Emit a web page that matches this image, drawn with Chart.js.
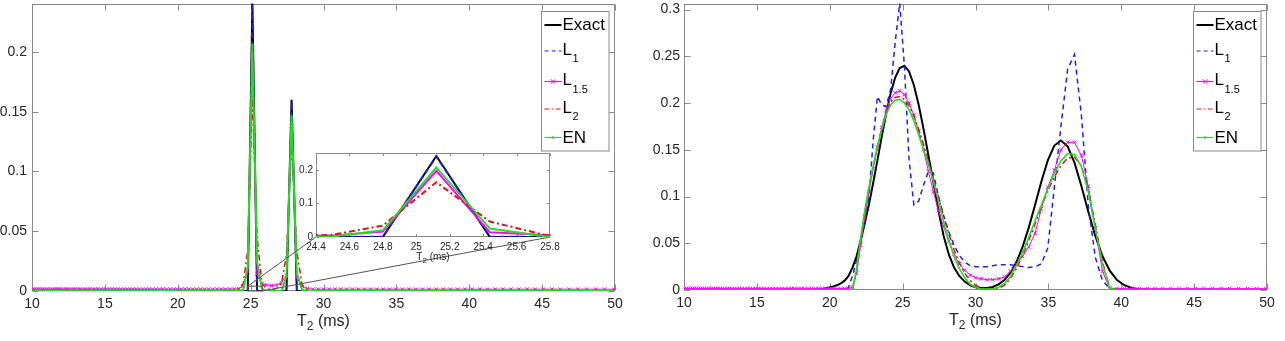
<!DOCTYPE html>
<html><head><meta charset="utf-8">
<script src="https://cdn.jsdelivr.net/npm/chart.js@4.4.0/dist/chart.umd.min.js"></script>
<style>
html,body{margin:0;padding:0;background:#fff;}
#wrap{position:relative;width:1285px;height:341px;overflow:hidden;background:#fff;}
.box{position:absolute;}
</style></head><body>
<div id="wrap">
<div class="box" style="left:0;top:0;width:640px;height:341px"><canvas id="cLeft"></canvas></div>
<div class="box" style="left:640px;top:0;width:645px;height:341px"><canvas id="cRight"></canvas></div>
<div class="box" id="insetBox" style="left:280px;top:146px;width:290px;height:125px"><canvas id="cInset"></canvas></div>
</div>
<script>
// ---------------- DATA ----------------
const T2 = [
 10.05,10.18,10.31,10.44,10.58,10.71,10.85,10.99,11.13,11.27,
 11.42,11.56,11.71,11.86,12.01,12.17,12.32,12.48,12.64,12.80,
 12.96,13.13,13.30,13.47,13.64,13.82,13.99,14.17,14.35,14.54,
 14.72,14.91,15.10,15.30,15.49,15.69,15.89,16.09,16.30,16.51,
 16.72,16.93,17.15,17.37,17.59,17.82,18.05,18.28,18.51,18.75,
 18.99,19.23,19.48,19.73,19.98,20.23,20.49,20.76,21.02,21.29,
 21.56,21.84,22.12,22.40,22.69,22.98,23.27,23.57,23.87,24.18,
 24.49,24.80,25.12,25.44,25.77,26.10,26.43,26.77,27.11,27.46,
 27.81,28.17,28.53,28.89,29.26,29.64,30.01,30.40,30.79,31.18,
 31.58,31.99,32.39,32.81,33.23,33.65,34.09,34.52,34.96,35.41,
 35.86,36.32,36.79,37.26,37.74,38.22,38.71,39.20,39.71,40.21,
 40.73,41.25,41.78,42.31,42.85,43.40,43.96,44.52,45.09,45.67,
 46.25,46.85,47.44,48.05,48.67,49.29,49.92
];

// Left panel (sharp peaks)
const LEFT_EXACT = [
 0,0,0,0,0,0,0,0,0,0, 0,0,0,0,0,0,0,0,0,0, 0,0,0,0,0,0,0,0,0,0,
 0,0,0,0,0,0,0,0,0,0, 0,0,0,0,0,0,0,0,0,0, 0,0,0,0,0,0,0,0,0,0,
 0,0,0,0,0,0,0,0,0,0,
 0,0,0.241,0,0,0,0,0,0,0,
 0.16,0,0,0,0,0,0,0,0,0,
 0,0,0,0,0,0,0,0,0,0, 0,0,0,0,0,0,0,0,0,0, 0,0,0,0,0,0,0,0,0,0,
 0,0,0,0,0,0,0
];
const LEFT_L1 = [
 0,0,0,0,0,0,0,0,0,0, 0,0,0,0,0,0,0,0,0,0, 0,0,0,0,0,0,0,0,0,0,
 0,0,0,0,0,0,0,0,0,0, 0,0,0,0,0,0,0,0,0,0, 0,0,0,0,0,0,0,0,0,0,
 0,0,0,0,0,0,0,0,0,0,
 0,0.001,0.24,0.001,0,0,0,0,0,0,
 0.158,0,0,0,0,0,0,0,0,0,
 0,0,0,0,0,0,0,0,0,0, 0,0,0,0,0,0,0,0,0,0, 0,0,0,0,0,0,0,0,0,0,
 0,0,0,0,0,0,0
];
const LEFT_L15 = [
 0.0015,0.0015,0.0015,0.0015,0.0015,0.0015,0.0015,0.0015,0.0015,0.0015,
 0.0015,0.0015,0.0015,0.0015,0.0015,0.0015,0.0015,0.0015,0.0015,0.0015,
 0.0015,0.0015,0.0015,0.0015,0.0015,0.0015,0.0015,0.0015,0.0015,0.0015,
 0.0015,0.0015,0.0015,0.0015,0.0015,0.0015,0.0015,0.0015,0.0015,0.0015,
 0.0015,0.0015,0.0015,0.0015,0.0015,0.0015,0.0015,0.0015,0.0015,0.0015,
 0.0015,0.0015,0.0015,0.0015,0.0015,0.0015,0.0015,0.0015,0.0015,0.0015,
 0.0015,0.0015,0.0015,0.0015,0.0015,0.0015,0.0015,0.0015,0.0015,0.002,
 0.004,0.016,0.197,0.014,0.006,0.005,0.0045,0.005,0.007,0.013,
 0.138,0.011,0.004,0.002,0.0015,0.0015,0.0015,0.0015,0.0015,0.0015,
 0.0015,0.0015,0.0015,0.0015,0.0015,0.0015,0.0015,0.0015,0.0015,0.0015,
 0.0015,0.0015,0.0015,0.0015,0.0015,0.0015,0.0015,0.0015,0.0015,0.0015,
 0.0015,0.0015,0.0015,0.0015,0.0015,0.0015,0.0015,0.0015,0.0015,0.0015,
 0.0015,0.0015,0.0015,0.0015,0.0015,0.0015,0.0015
];
const LEFT_L2 = [
 0,0,0,0,0,0,0,0,0,0, 0,0,0,0,0,0,0,0,0,0, 0,0,0,0,0,0,0,0,0,0,
 0,0,0,0,0,0,0,0,0,0, 0,0,0,0,0,0,0,0,0,0, 0,0,0,0,0,0,0,0,0,0,
 0,0,0,0,0,0,0,0,0,0.002,
 0.006,0.034,0.163,0.046,0.006,0.002,0.001,0.002,0.006,0.03,
 0.125,0.033,0.005,0.001,0,0,0,0,0,0,
 0,0,0,0,0,0,0,0,0,0, 0,0,0,0,0,0,0,0,0,0, 0,0,0,0,0,0,0,0,0,0,
 0,0,0,0,0,0,0
];
const LEFT_EN = [
 0,0,0,0,0,0,0,0,0,0, 0,0,0,0,0,0,0,0,0,0, 0,0,0,0,0,0,0,0,0,0,
 0,0,0,0,0,0,0,0,0,0, 0,0,0,0,0,0,0,0,0,0, 0,0,0,0,0,0,0,0,0,0,
 0,0,0,0,0,0,0,0,0,0,
 0.001,0.02,0.207,0.025,0.002,0,0,0,0,0.012,
 0.147,0.015,0.001,0,0,0,0,0,0,0,
 0,0,0,0,0,0,0,0,0,0, 0,0,0,0,0,0,0,0,0,0, 0,0,0,0,0,0,0,0,0,0,
 0,0,0,0,0,0,0
];

// Right panel (broad peaks)
const RIGHT_EXACT = [
 0,0,0,0,0,0,0,0,0,0, 0,0,0,0,0,0,0,0,0,0, 0,0,0,0,0,0,0,0,0,0,
 0,0,0,0,0,0,0,0,0,0, 0,0,0,0,0,0,0,0,0,0,
 0.0004,0.0007,0.0011,0.0018,0.0028,0.0038,0.005,0.007,0.010,0.015,
 0.024,0.036,0.053,0.0712,0.0916,0.1144,0.1387,0.1643,0.1886,0.2106,
 0.2273,0.2374,0.2398,0.2338,0.2194,0.1983,0.1726,0.1439,0.1152,0.085,
 0.058,0.038,0.024,0.015,0.009,0.005,0.003,0.0022,0.0022,0.0033,
 0.0061,0.0107,0.0182,0.0299,0.0461,0.0665,0.0912,0.1161,0.1386,0.1545,
 0.1600,0.1537,0.1363,0.1115,0.0837,0.0578,0.0363,0.0209,0.0107,0.0051,
 0.0021,0.0008,0.0003,0,0,0,0,0,0,0,
 0,0,0,0,0,0,0
];
const RIGHT_L1 = [
 0,0,0,0,0,0,0,0,0,0, 0,0,0,0,0,0,0,0,0,0, 0,0,0,0,0,0,0,0,0,0,
 0,0,0,0,0,0,0,0,0,0, 0,0,0,0,0,0,0,0,0,0,
 0,0,0,0,0,0,0,0,0,0.003,
 0.015,0.032,0.050,0.075,0.100,0.160,0.207,0.198,0.196,0.215,
 0.265,0.307,0.240,0.140,0.091,0.095,0.112,0.127,0.125,0.100,
 0.080,0.062,0.048,0.037,0.030,0.026,0.025,0.025,0.025,0.026,
 0.027,0.027,0.027,0.026,0.025,0.024,0.025,0.028,0.045,0.110,
 0.175,0.236,0.252,0.188,0.090,0.035,0.010,0.002,0,0,
 0,0,0,0,0,0,0,0,0,0,
 0,0,0,0,0,0,0
];
const RIGHT_L15 = [
 0.0015,0.0015,0.0015,0.0015,0.0015,0.0015,0.0015,0.0015,0.0015,0.0015,
 0.0015,0.0015,0.0015,0.0015,0.0015,0.0015,0.0015,0.0015,0.0015,0.0015,
 0.0015,0.0015,0.0015,0.0015,0.0015,0.0015,0.0015,0.0015,0.0015,0.0015,
 0.0015,0.0015,0.0015,0.0015,0.0015,0.0015,0.0015,0.0015,0.0015,0.0015,
 0.0015,0.0015,0.0015,0.0015,0.0015,0.0015,0.0015,0.0015,0.0015,0.0015,
 0.0015,0.0015,0.0015,0.0015,0.0015,0.0015,0.0015,0.0015,0.0015,0.0015,
 0.003,0.018,0.048,0.078,0.105,0.130,0.153,0.174,0.192,0.205,
 0.211,0.213,0.209,0.200,0.187,0.170,0.150,0.127,0.105,0.085,
 0.068,0.052,0.038,0.028,0.021,0.016,0.013,0.012,0.011,0.011,
 0.012,0.014,0.020,0.027,0.036,0.046,0.061,0.087,0.110,0.128,
 0.150,0.158,0.158,0.144,0.111,0.066,0.020,0.002,0.0015,0.0015,
 0.0015,0.0015,0.0015,0.0015,0.0015,0.0015,0.0015,0.0015,0.0015,0.0015,
 0.0015,0.0015,0.0015,0.0015,0.0015,0.0015,0.0015
];
const RIGHT_L2 = [
 0,0,0,0,0,0,0,0,0,0, 0,0,0,0,0,0,0,0,0,0, 0,0,0,0,0,0,0,0,0,0,
 0,0,0,0,0,0,0,0,0,0, 0,0,0,0,0,0,0,0,0,0, 0,0,0,0,0,0,0,0,0,0,
 0.002,0.020,0.052,0.082,0.107,0.131,0.153,0.173,0.190,0.201,
 0.206,0.207,0.204,0.197,0.186,0.172,0.156,0.138,0.119,0.099,
 0.079,0.060,0.043,0.029,0.018,0.010,0.005,0.002,0.001,0.001,
 0.002,0.005,0.012,0.023,0.037,0.053,0.071,0.089,0.106,0.121,
 0.133,0.141,0.142,0.133,0.108,0.070,0.030,0.003,0,0,
 0,0,0,0,0,0,0,0,0,0,
 0,0,0,0,0,0,0
];
const RIGHT_EN = [
 0,0,0,0,0,0,0,0,0,0, 0,0,0,0,0,0,0,0,0,0, 0,0,0,0,0,0,0,0,0,0,
 0,0,0,0,0,0,0,0,0,0, 0,0,0,0,0,0,0,0,0,0, 0,0,0,0,0,0,0,0,0,0,
 0.001,0.022,0.056,0.085,0.110,0.133,0.154,0.172,0.188,0.198,
 0.203,0.204,0.200,0.193,0.181,0.166,0.150,0.134,0.116,0.095,
 0.073,0.053,0.036,0.023,0.013,0.006,0.003,0.001,0.001,0.001,
 0.003,0.007,0.014,0.026,0.040,0.056,0.074,0.091,0.108,0.125,
 0.138,0.146,0.145,0.132,0.105,0.066,0.028,0.002,0,0,
 0,0,0,0,0,0,0,0,0,0,
 0,0,0,0,0,0,0
];

const SERIES_NAMES = ['Exact', 'L', 'L', 'L', 'EN'];
const SERIES_SUBS  = ['', '1', '1.5', '2', ''];
const X_TITLE = ['T', '2', ' (ms)'];

const MAIN_X_TICKS  = [10, 15, 20, 25, 30, 35, 40, 45, 50];
const MAIN_X_LABELS = ['10', '15', '20', '25', '30', '35', '40', '45', '50'];
const LEFT_Y_TICKS  = [0, 0.05, 0.1, 0.15, 0.2];
const LEFT_Y_LABELS = ['0', '0.05', '0.1', '0.15', '0.2'];
const RIGHT_Y_TICKS  = [0, 0.05, 0.1, 0.15, 0.2, 0.25, 0.3];
const RIGHT_Y_LABELS = ['0', '0.05', '0.1', '0.15', '0.2', '0.25', '0.3'];
const INSET_X_TICKS  = [24.4, 24.6, 24.8, 25, 25.2, 25.4, 25.6, 25.8];
const INSET_X_LABELS = ['24.4', '24.6', '24.8', '25', '25.2', '25.4', '25.6', '25.8'];
const INSET_Y_TICKS  = [0, 0.1, 0.2];
const INSET_Y_LABELS = ['0', '0.1', '0.2'];

const LEFT_RANGE  = {xmin: 10, xmax: 50, ymin: 0, ymax: 0.2405};
const RIGHT_RANGE = {xmin: 10, xmax: 50, ymin: 0, ymax: 0.3065};
const INSET_RANGE = {xmin: 24.4, xmax: 25.8, ymin: 0, ymax: 0.25};
const ZOOM_BOX = {x0: 24.8, x1: 25.8, y0: 0, y1: 0.004};

// check lengths
[LEFT_EXACT, LEFT_L1, LEFT_L15, LEFT_L2, LEFT_EN, RIGHT_EXACT, RIGHT_L1, RIGHT_L15, RIGHT_L2, RIGHT_EN]
  .forEach((a, k) => { if (a.length !== T2.length) throw new Error('length mismatch ' + k + ': ' + a.length); });

// ---------------- STYLE ----------------
const FONT = "'Liberation Sans', Arial, Helvetica, sans-serif";
const INK = '#262626';
const FRAME = '#8a8a8a';
const INSET_POS = {left: 280, top: 146};
const STYLE = [
  {color: '#000000', dash: [],           marker: null},
  {color: '#2020e8', dash: [5, 4],       marker: null},
  {color: '#ff00ff', dash: [],           marker: 'crossRot'},
  {color: '#e0141c', dash: [6, 3, 2, 3], marker: null},
  {color: '#22dd22', dash: [],           marker: 'dot'}
];

Chart.defaults.font.family = FONT;
Chart.defaults.color = INK;

function makeDatasets(arrays, widths, withMarkers) {
  return arrays.map((arr, k) => ({
    label: SERIES_NAMES[k] + SERIES_SUBS[k],
    data: T2.map((t, i) => ({x: t, y: arr[i]})),
    borderColor: STYLE[k].color,
    backgroundColor: STYLE[k].color,
    borderWidth: widths[k],
    borderDash: STYLE[k].dash,
    pointStyle: 'crossRot',
    pointRadius: (withMarkers && STYLE[k].marker === 'crossRot') ? 2.5 : 0,
    pointBorderWidth: 1,
    pointBorderColor: STYLE[k].color,
    pointHoverRadius: 0,
    tension: 0,
    fill: false,
    order: 5 - k
  }));
}

function axisCfg(ticksArr, labelsArr, min, max, fontSize, pad, isX, fixedSize) {
  return {
    type: 'linear', min: min, max: max,
    grid: {display: false, drawTicks: false},
    border: {display: false},
    ticks: {
      autoSkip: false, maxRotation: 0, minRotation: 0, includeBounds: false,
      padding: pad, color: INK, font: {family: FONT, size: fontSize},
      callback: (v) => {
        const j = ticksArr.findIndex(t => Math.abs(t - v) < 1e-9);
        return j >= 0 ? labelsArr[j] : '';
      }
    },
    afterBuildTicks: (s) => { s.ticks = ticksArr.map(v => ({value: v})); },
    afterFit: (s) => {
      if (isX) s.height = fixedSize; else s.width = fixedSize;
      s.paddingLeft = 0; s.paddingRight = 0; s.paddingTop = 0; s.paddingBottom = 0;
    }
  };
}

function drawTitle(ctx, cx, cy, size, subSize, subDy) {
  const mainF = size + 'px ' + FONT, subF = subSize + 'px ' + FONT;
  ctx.font = mainF;
  const w0 = ctx.measureText(X_TITLE[0]).width, w2 = ctx.measureText(X_TITLE[2]).width;
  ctx.font = subF;
  const w1 = ctx.measureText(X_TITLE[1]).width;
  let x = cx - (w0 + w1 + w2) / 2;
  ctx.textAlign = 'left'; ctx.textBaseline = 'middle'; ctx.fillStyle = INK;
  ctx.font = mainF; ctx.fillText(X_TITLE[0], x, cy); x += w0;
  ctx.font = subF;  ctx.fillText(X_TITLE[1], x, cy + subDy); x += w1;
  ctx.font = mainF; ctx.fillText(X_TITLE[2], x, cy);
}

function drawLegend(chart) {
  const ctx = chart.ctx, ca = chart.chartArea;
  const w = 67.5, h = 139.5;
  const x0 = Math.round(ca.right - 7 - w) + 0.5, y0 = Math.round(ca.top + 7) + 0.5;
  ctx.save();
  ctx.fillStyle = '#ffffff';
  ctx.fillRect(x0, y0, w, h);
  ctx.strokeStyle = FRAME; ctx.lineWidth = 1; ctx.setLineDash([]);
  ctx.strokeRect(x0, y0, w, h);
  const rows = [13.5, 39.5, 70, 97.5, 126];
  SERIES_NAMES.forEach((name, k) => {
    const y = y0 + rows[k];
    const st = STYLE[k];
    ctx.strokeStyle = st.color; ctx.lineWidth = k === 0 ? 2 : 1.2;
    ctx.setLineDash(st.dash.map(d => d * 0.8));
    ctx.beginPath(); ctx.moveTo(x0 + 3, y); ctx.lineTo(x0 + 20, y); ctx.stroke();
    ctx.setLineDash([]);
    const mx = x0 + 11.5;
    if (st.marker === 'crossRot') {
      ctx.lineWidth = 1;
      ctx.beginPath();
      ctx.moveTo(mx - 2.2, y - 2.2); ctx.lineTo(mx + 2.2, y + 2.2);
      ctx.moveTo(mx - 2.2, y + 2.2); ctx.lineTo(mx + 2.2, y - 2.2);
      ctx.stroke();
    } else if (st.marker === 'dot') {
      ctx.fillStyle = st.color;
      ctx.beginPath(); ctx.arc(mx, y, 1.3, 0, Math.PI * 2); ctx.fill();
    }
    ctx.fillStyle = '#000000'; ctx.textAlign = 'left'; ctx.textBaseline = 'middle';
    const tx = x0 + 21;
    if (SERIES_SUBS[k]) {
      ctx.font = '17px ' + FONT;
      ctx.fillText(name, tx, y - 1);
      const wn = ctx.measureText(name).width;
      ctx.font = '11px ' + FONT;
      ctx.fillText(SERIES_SUBS[k], tx + wn + 0.5, y + 8);
    } else {
      ctx.font = '17px ' + FONT;
      ctx.fillText(name, tx, y + 0.5);
    }
  });
  ctx.restore();
}

let insetChart = null;

const matPlugin = {
  id: 'mat',
  beforeDraw(chart) {
    const {ctx, chartArea: ca} = chart;
    ctx.save(); ctx.fillStyle = '#ffffff';
    ctx.fillRect(ca.left, ca.top, ca.right - ca.left, ca.bottom - ca.top);
    ctx.restore();
  },
  beforeDatasetsDraw(chart, args, o) {
    const {ctx, chartArea: ca, scales} = chart;
    const L = Math.round(ca.left) + 0.5, R = Math.round(ca.right) - 0.5;
    const T = Math.round(ca.top) + 0.5, B = Math.round(ca.bottom) - 0.5;
    const len = o.tickLen;
    ctx.save();
    ctx.strokeStyle = FRAME; ctx.lineWidth = 1; ctx.setLineDash([]);
    ctx.strokeRect(L, T, R - L, B - T);
    ctx.beginPath();
    scales.x.ticks.forEach(t => {
      const px = Math.round(scales.x.getPixelForValue(t.value)) + 0.5;
      ctx.moveTo(px, B); ctx.lineTo(px, B - len);
      ctx.moveTo(px, T); ctx.lineTo(px, T + len);
    });
    scales.y.ticks.forEach(t => {
      const py = Math.round(scales.y.getPixelForValue(t.value)) + 0.5;
      ctx.moveTo(L, py); ctx.lineTo(L + len, py);
      ctx.moveTo(R, py); ctx.lineTo(R - len, py);
    });
    ctx.stroke();
    ctx.restore();
  },
  afterDraw(chart, args, o) {
    const {ctx, chartArea: ca, scales} = chart;
    ctx.save();
    if (o.zoom && insetChart) {
      const xs = scales.x, ys = scales.y;
      const rx0 = xs.getPixelForValue(ZOOM_BOX.x0), rx1 = xs.getPixelForValue(ZOOM_BOX.x1);
      const ryT = ys.getPixelForValue(ZOOM_BOX.y1), ryB = ys.getPixelForValue(ZOOM_BOX.y0);
      const ia = insetChart.chartArea;
      const ixL = INSET_POS.left + ia.left, ixR = INSET_POS.left + ia.right, iyB = INSET_POS.top + ia.bottom;
      ctx.strokeStyle = '#555555'; ctx.lineWidth = 1; ctx.setLineDash([]);
      ctx.strokeRect(rx0, ryT, rx1 - rx0, ryB - ryT);
      ctx.beginPath();
      ctx.moveTo(rx0, ryT); ctx.lineTo(ixL, iyB);
      ctx.moveTo(rx1, ryB); ctx.lineTo(ixR, iyB);
      ctx.stroke();
    }
    if (o.legend) drawLegend(chart);
    drawTitle(ctx, (ca.left + ca.right) / 2, ca.bottom + o.titleDy, o.titleSize, o.subSize, o.subDy);
    ctx.restore();
  }
};

function makeChart(id, arrays, range, yTicks, yLabels, xTicks, xLabels, cfg) {
  return new Chart(document.getElementById(id), {
    type: 'line',
    data: {datasets: makeDatasets(arrays, cfg.widths, cfg.markers)},
    plugins: [matPlugin],
    options: {
      responsive: true, maintainAspectRatio: false, animation: false, devicePixelRatio: 1,
      events: [],
      layout: {padding: cfg.padding},
      plugins: {
        legend: {display: false}, tooltip: {enabled: false}, title: {display: false},
        mat: {tickLen: cfg.tickLen, legend: cfg.legend, zoom: cfg.zoom,
              titleDy: cfg.titleDy, titleSize: cfg.titleSize, subSize: cfg.subSize, subDy: cfg.subDy}
      },
      scales: {
        x: axisCfg(xTicks, xLabels, range.xmin, range.xmax, cfg.tickFont, cfg.xPad, true, cfg.xAxisH),
        y: axisCfg(yTicks, yLabels, range.ymin, range.ymax, cfg.tickFont, cfg.yPad, false, cfg.yAxisW)
      }
    }
  });
}

insetChart = makeChart('cInset', [LEFT_EXACT, LEFT_L1, LEFT_L15, LEFT_L2, LEFT_EN], INSET_RANGE,
  INSET_Y_TICKS, INSET_Y_LABELS, INSET_X_TICKS, INSET_X_LABELS,
  {widths: [2, 2, 2, 2, 2], markers: false, padding: {left: 0, top: 7, right: 20, bottom: 0},
   tickLen: 2.5, legend: false, zoom: false, titleDy: 20.5, titleSize: 10, subSize: 8, subDy: 3,
   tickFont: 10, xPad: 4, yPad: 3, xAxisH: 34, yAxisW: 36});

makeChart('cLeft', [LEFT_EXACT, LEFT_L1, LEFT_L15, LEFT_L2, LEFT_EN], LEFT_RANGE,
  LEFT_Y_TICKS, LEFT_Y_LABELS, MAIN_X_TICKS, MAIN_X_LABELS,
  {widths: [2, 1.5, 1, 1.5, 2], markers: true, padding: {left: 0, top: 3, right: 25, bottom: 0},
   tickLen: 6, legend: true, zoom: true, titleDy: 31, titleSize: 16, subSize: 12, subDy: 5,
   tickFont: 14, xPad: 5, yPad: 5, xAxisH: 50, yAxisW: 32});

makeChart('cRight', [RIGHT_EXACT, RIGHT_L1, RIGHT_L15, RIGHT_L2, RIGHT_EN], RIGHT_RANGE,
  RIGHT_Y_TICKS, RIGHT_Y_LABELS, MAIN_X_TICKS, MAIN_X_LABELS,
  {widths: [2, 1.5, 1, 1.5, 1.6], markers: true, padding: {left: 0, top: 3, right: 18, bottom: 0},
   tickLen: 6, legend: true, zoom: false, titleDy: 31, titleSize: 16, subSize: 12, subDy: 5,
   tickFont: 14, xPad: 5, yPad: 4, xAxisH: 51, yAxisW: 44});
</script>
</body></html>
